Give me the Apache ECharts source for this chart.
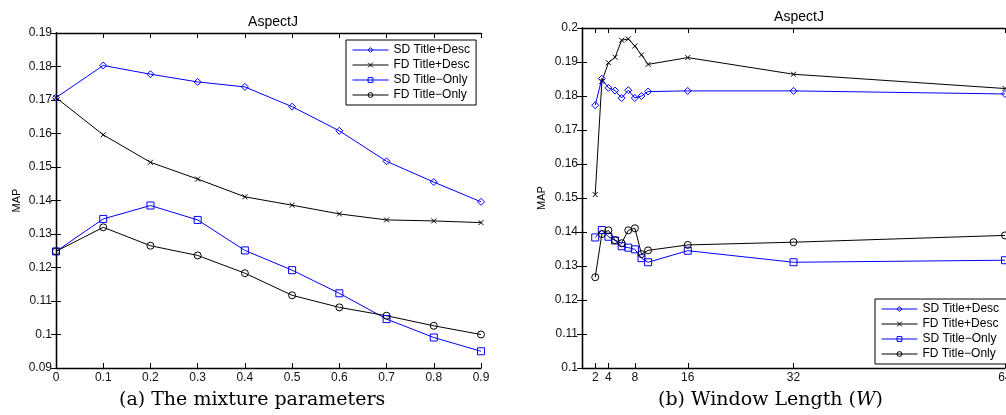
<!DOCTYPE html>
<html>
<head>
<meta charset="utf-8">
<script src="https://cdn.jsdelivr.net/npm/echarts@6/dist/echarts.min.js"></script>
<style>
html,body{margin:0;padding:0;background:#fff;}
#chart{width:1006px;height:415px;}
</style>
</head>
<body>
<div id="chart"></div>
<script>
// ---- Data ----
const seriesNames = ['SD Title+Desc', 'FD Title+Desc', 'SD Title\u2212Only', 'FD Title\u2212Only'];
const chartTitle = 'AspectJ';

// (a) mixture parameters
const mixParams = [0, 0.1, 0.2, 0.3, 0.4, 0.5, 0.6, 0.7, 0.8, 0.9];
const sdTitleDescA = [0.1707, 0.1803, 0.1777, 0.1754, 0.1739, 0.1680, 0.1608, 0.1517, 0.1455, 0.1396];
const fdTitleDescA = [0.1707, 0.1596, 0.1514, 0.1464, 0.1411, 0.1386, 0.1360, 0.1342, 0.1339, 0.1334];
const sdTitleOnlyA = [0.1248, 0.1345, 0.1385, 0.1342, 0.1251, 0.1192, 0.1123, 0.1046, 0.0991, 0.0950];
const fdTitleOnlyA = [0.1248, 0.1320, 0.1265, 0.1236, 0.1183, 0.1117, 0.1081, 0.1056, 0.1026, 0.1000];

// (b) window length
const windowLengths = [2, 3, 4, 5, 6, 7, 8, 9, 10, 16, 32, 64];
const sdTitleDescB = [0.1773, 0.1851, 0.1824, 0.1816, 0.1794, 0.1817, 0.1794, 0.1800, 0.1813, 0.1815, 0.1815, 0.1806];
const fdTitleDescB = [0.1510, 0.1843, 0.1898, 0.1914, 0.1964, 0.1968, 0.1947, 0.1921, 0.1893, 0.1913, 0.1864, 0.1822];
const sdTitleOnlyB = [0.1384, 0.1406, 0.1386, 0.1375, 0.1358, 0.1354, 0.1349, 0.1323, 0.1311, 0.1345, 0.1311, 0.1317];
const fdTitleOnlyB = [0.1267, 0.1394, 0.1405, 0.1376, 0.1367, 0.1405, 0.1411, 0.1335, 0.1346, 0.1362, 0.1370, 0.1390];
const windowTicks = [2, 4, 8, 16, 32, 64];

const captionA = '(a) The mixture parameters';
const captionB = '(b) Window Length ({i|W})';

// ---- Styles ----
const BLUE = '#0000ff';
const BLACK = '#000000';
const FONT = 'Liberation Sans, Arial, sans-serif';
const xMarker = 'path://M0,0L10,10M10,0L0,10';

const seriesStyles = [
  {color: BLUE, symbol: 'diamond', size: 7},
  {color: BLACK, symbol: xMarker, size: 5},
  {color: BLUE, symbol: 'rect', size: 7},
  {color: BLACK, symbol: 'circle', size: 7}
];

function pairs(xs, ys) { return xs.map((x, i) => [x, ys[i]]); }

function makeSeries(xIdx, yIdx, xs, ysList) {
  return ysList.map((ys, k) => {
    const st = seriesStyles[k];
    return {
      name: seriesNames[k],
      type: 'line',
      xAxisIndex: xIdx,
      yAxisIndex: yIdx,
      data: pairs(xs, ys),
      symbol: st.symbol,
      symbolSize: st.size,
      showAllSymbol: true,
      animation: false,
      lineStyle: {color: st.color, width: 1},
      itemStyle: {color: 'rgba(255,255,255,0)', borderColor: st.color, borderWidth: 1},
      emphasis: {disabled: true},
      z: 3
    };
  });
}

function legendData() {
  return seriesNames.map((n, k) => ({
    name: n,
    itemStyle: {color: 'rgba(255,255,255,0)', borderColor: seriesStyles[k].color, borderWidth: 1},
    lineStyle: {color: seriesStyles[k].color, width: 1}
  }));
}

const axisLineStyle = {show: true, lineStyle: {color: BLACK, width: 1.3}};
const tickInside = {show: true, inside: true, length: 5, lineStyle: {color: BLACK, width: 1}};
const labelStyle = {color: '#111', fontFamily: FONT, fontSize: 12};

const chart = echarts.init(document.getElementById('chart'), null, {renderer: 'canvas'});

const legendCommon = {
  orient: 'vertical',
  backgroundColor: '#fff', borderColor: BLACK, borderWidth: 1,
  itemGap: 3, itemWidth: 36, itemHeight: 6, selectedMode: false,
  textStyle: {fontFamily: FONT, fontSize: 12, color: BLACK}
};

const option = {
  backgroundColor: '#fff',
  animation: false,
  title: [
    {text: chartTitle, left: 268, top: 10, textAlign: 'center',
     textStyle: {fontFamily: FONT, fontSize: 14, fontWeight: 'normal', color: BLACK}},
    {text: chartTitle, left: 794, top: 5, textAlign: 'center',
     textStyle: {fontFamily: FONT, fontSize: 14, fontWeight: 'normal', color: BLACK}}
  ],
  grid: [
    {left: 56, top: 33, width: 425, height: 335, containLabel: false, outerBoundsMode: 'none'},
    {left: 582, top: 28, width: 423, height: 340, containLabel: false, outerBoundsMode: 'none'}
  ],
  xAxis: [
    {gridIndex: 0, type: 'value', min: 0, max: 0.9, interval: 0.1, position: 'bottom',
     axisLine: axisLineStyle, axisTick: tickInside,
     axisLabel: Object.assign({margin: 4}, labelStyle), splitLine: {show: false}},
    {gridIndex: 0, type: 'value', min: 0, max: 0.9, interval: 0.1, position: 'top',
     axisLine: axisLineStyle, axisTick: tickInside, axisLabel: {show: false}, splitLine: {show: false}},
    {gridIndex: 1, type: 'value', min: 0, max: 64, position: 'bottom',
     axisLine: axisLineStyle,
     axisTick: Object.assign({customValues: windowTicks}, tickInside),
     axisLabel: Object.assign({margin: 4, customValues: windowTicks}, labelStyle), splitLine: {show: false}},
    {gridIndex: 1, type: 'value', min: 0, max: 64, position: 'top',
     axisLine: axisLineStyle,
     axisTick: Object.assign({customValues: windowTicks}, tickInside),
     axisLabel: {show: false}, splitLine: {show: false}}
  ],
  yAxis: [
    {gridIndex: 0, type: 'value', min: 0.09, max: 0.19, interval: 0.01, position: 'left',
     name: 'MAP', nameLocation: 'middle', nameGap: 34, nameRotate: 90,
     nameTextStyle: {fontFamily: FONT, fontSize: 11, color: BLACK},
     axisLine: axisLineStyle, axisTick: tickInside,
     axisLabel: Object.assign({margin: 4}, labelStyle), splitLine: {show: false}},
    {gridIndex: 0, type: 'value', min: 0.09, max: 0.19, interval: 0.01, position: 'right',
     axisLine: axisLineStyle, axisTick: tickInside, axisLabel: {show: false}, splitLine: {show: false}},
    {gridIndex: 1, type: 'value', min: 0.1, max: 0.2, interval: 0.01, position: 'left',
     name: 'MAP', nameLocation: 'middle', nameGap: 35, nameRotate: 90,
     nameTextStyle: {fontFamily: FONT, fontSize: 11, color: BLACK},
     axisLine: axisLineStyle, axisTick: tickInside,
     axisLabel: Object.assign({margin: 4}, labelStyle), splitLine: {show: false}},
    {gridIndex: 1, type: 'value', min: 0.1, max: 0.2, interval: 0.01, position: 'right',
     axisLine: axisLineStyle, axisTick: tickInside, axisLabel: {show: false}, splitLine: {show: false}}
  ],
  legend: [
    Object.assign({data: legendData(), left: 346, top: 40, padding: [4, 6, 4, 6]}, legendCommon),
    Object.assign({data: legendData(), left: 875, top: 299, padding: [4, 14, 4, 6]}, legendCommon)
  ],
  graphic: [
    {type: 'text', left: 119, top: 391, style: {text: captionA, font: '19px "DejaVu Serif", serif', fill: BLACK}},
    {type: 'text', left: 658, top: 391, style: {text: captionB, font: '19px "DejaVu Serif", serif', fill: BLACK,
      rich: {i: {fontStyle: 'italic', fontFamily: 'DejaVu Serif', fontSize: 19}}}}
  ],
  series: [].concat(
    makeSeries(0, 0, mixParams, [sdTitleDescA, fdTitleDescA, sdTitleOnlyA, fdTitleOnlyA]),
    makeSeries(2, 2, windowLengths, [sdTitleDescB, fdTitleDescB, sdTitleOnlyB, fdTitleOnlyB])
  )
};
chart.setOption(option);
</script>
</body>
</html>
